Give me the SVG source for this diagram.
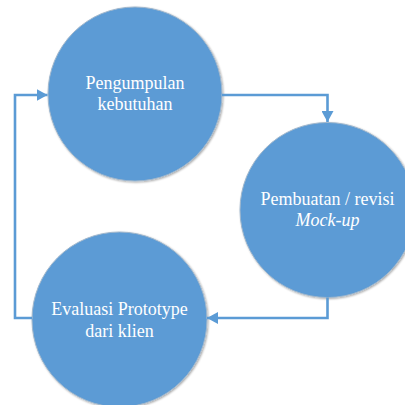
<svg xmlns="http://www.w3.org/2000/svg" width="405" height="405" viewBox="0 0 405 405">
<style>
.node circle{fill:#5b9bd5;stroke:#9fb6cc;stroke-width:1}
.node text{font-family:'Liberation Serif','Times New Roman','DejaVu Serif',serif;font-size:18px;fill:#ffffff;text-anchor:middle}
.conn path{fill:none;stroke:#5b9bd5;stroke-width:2.6;marker-end:url(#ah)}
</style>
<defs>
<marker id="ah" markerUnits="userSpaceOnUse" markerWidth="12" markerHeight="12" refX="11" refY="6" orient="auto">
<path d="M0,0 L11,6 L0,12 Z" fill="#5b9bd5"/>
</marker>
<filter id="sh" x="-10%" y="-10%" width="120%" height="120%">
<feGaussianBlur in="SourceAlpha" stdDeviation="1.2"/>
<feOffset dx="0.5" dy="0.8"/>
<feComponentTransfer><feFuncA type="linear" slope="0.35"/></feComponentTransfer>
<feMerge><feMergeNode/><feMergeNode in="SourceGraphic"/></feMerge>
</filter>
</defs>
<rect width="405" height="405" fill="#ffffff"/>
<g id="node-pengumpulan" class="node">
<circle cx="135" cy="94" r="87" filter="url(#sh)"/>
<text x="135" y="89" font-family="Liberation Serif, serif">Pengumpulan</text>
<text x="135" y="110" font-family="Liberation Serif, serif">kebutuhan</text>
</g>
<g id="node-pembuatan" class="node">
<circle cx="327.5" cy="210" r="87.5" filter="url(#sh)"/>
<text x="327.5" y="205" font-family="Liberation Serif, serif">Pembuatan / revisi</text>
<text x="327.5" y="226" font-family="Liberation Serif, serif" font-style="italic">Mock-up</text>
</g>
<g id="node-evaluasi" class="node">
<circle cx="119.5" cy="319.5" r="87.5" filter="url(#sh)"/>
<text x="119.5" y="315" font-family="Liberation Serif, serif">Evaluasi Prototype</text>
<text x="119.5" y="337" font-family="Liberation Serif, serif">dari klien</text>
</g>
<g id="connectors" class="conn">
<path d="M222,95 H327.5 V122"/>
<path d="M327.5,297.5 V318 H207"/>
<path d="M32,318 H15 V95 H47.5"/>
</g>
</svg>
